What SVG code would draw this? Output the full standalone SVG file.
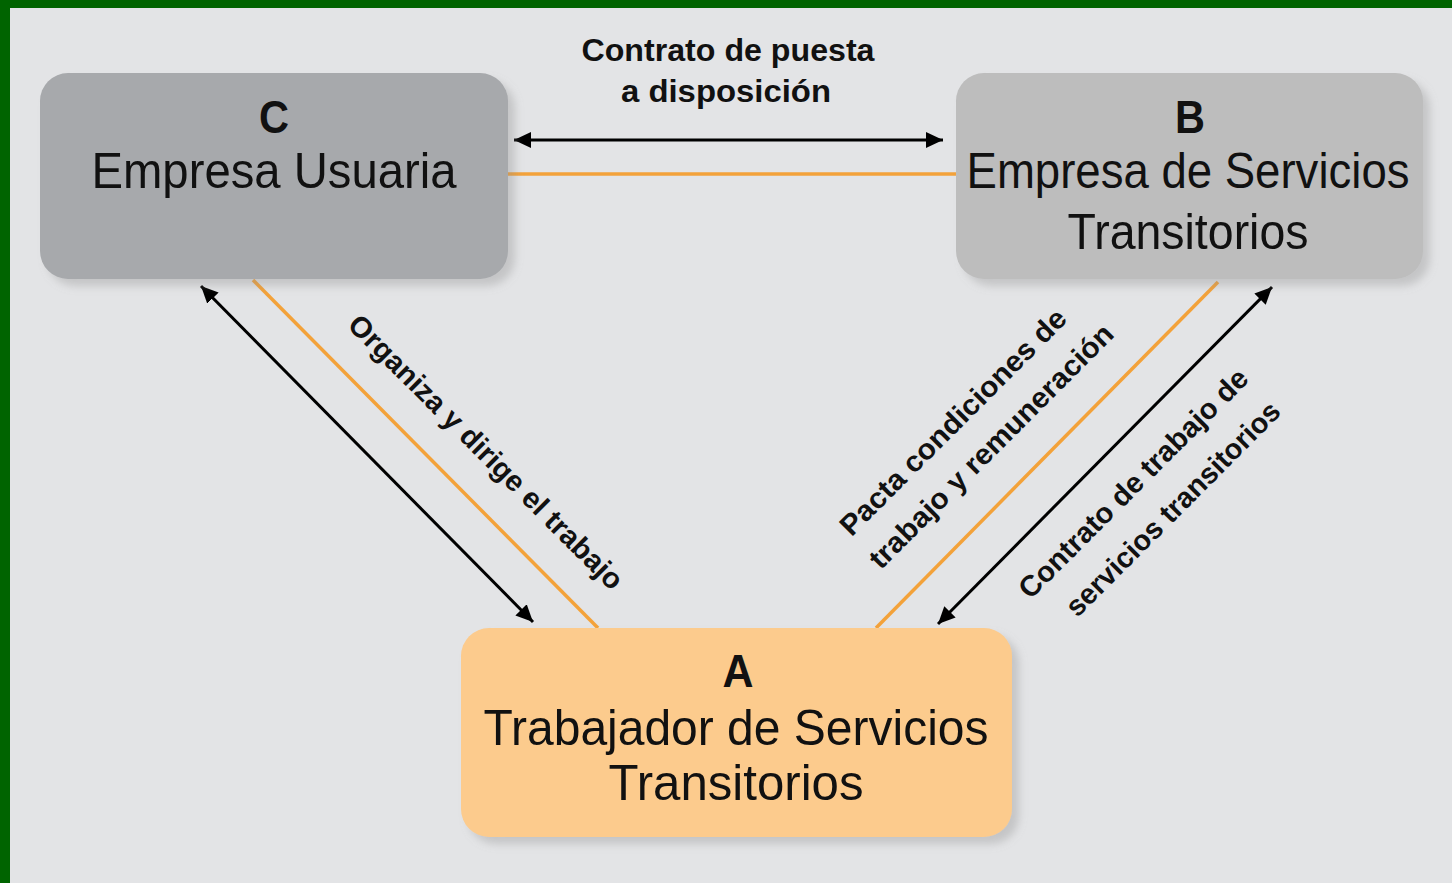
<svg xmlns="http://www.w3.org/2000/svg" width="1452" height="883" viewBox="0 0 1452 883">
<style>
.lbl{font-family:"Liberation Sans Narrow","Liberation Sans",Arial,sans-serif;font-weight:bold;fill:#111;}
.big{font-family:"Liberation Sans Narrow","Liberation Sans",Arial,sans-serif;fill:#111;font-size:50px;text-anchor:middle;}
.letter{font-family:"Liberation Sans","Arial",sans-serif;font-weight:bold;fill:#111;font-size:46px;text-anchor:middle;}
.rot{font-family:"Liberation Sans Narrow","Liberation Sans",Arial,sans-serif;font-weight:bold;fill:#111;font-size:29px;text-anchor:middle;}
.blk{stroke:#000;stroke-width:3;fill:none;marker-start:url(#ah);marker-end:url(#ah);}
.org{stroke:#f3a23a;stroke-width:3.5;fill:none;}
</style>
<defs>
<marker id="ah" markerUnits="userSpaceOnUse" markerWidth="18" markerHeight="16" refX="17" refY="8" orient="auto-start-reverse">
<path d="M0,0 L17,8 L0,16 z" fill="#000"/>
</marker>
<filter id="sh" x="-10%" y="-10%" width="125%" height="130%">
<feDropShadow dx="7" dy="7" stdDeviation="4" flood-color="#8a8a8a" flood-opacity="0.35"/>
</filter>
</defs>
<rect x="0" y="0" width="1452" height="883" fill="#006400"/>
<rect x="10" y="8" width="1442" height="875" fill="#e3e4e6"/>

<g id="connectors">
<line class="org" x1="508" y1="174" x2="956" y2="174"/>
<line class="org" x1="253" y1="280" x2="598" y2="628"/>
<line class="org" x1="1218" y1="282" x2="876" y2="628"/>
<line class="blk" x1="514" y1="140" x2="943" y2="140"/>
<line class="blk" x1="201" y1="286" x2="533" y2="622"/>
<line class="blk" x1="1272" y1="287" x2="938" y2="624"/>
<text class="lbl" font-size="32" text-anchor="middle"><tspan x="728" y="61" textLength="293" lengthAdjust="spacingAndGlyphs">Contrato de puesta</tspan><tspan x="726" y="102" textLength="210" lengthAdjust="spacingAndGlyphs">a disposición</tspan></text>
<g transform="translate(486,452) rotate(45)">
<text class="rot" x="0" y="10" textLength="375" lengthAdjust="spacingAndGlyphs">Organiza y dirige el trabajo</text>
</g>
<g transform="translate(972,434) rotate(-45)">
<text class="rot" x="-5" y="-12" textLength="307" lengthAdjust="spacingAndGlyphs">Pacta condiciones de</text>
<text class="rot" x="5" y="32" textLength="332" lengthAdjust="spacingAndGlyphs">trabajo y remuneración</text>
</g>
<g transform="translate(1153,496) rotate(-45)">
<text class="rot" x="-5" y="-13" textLength="311" lengthAdjust="spacingAndGlyphs">Contrato de trabajo de</text>
<text class="rot" x="5" y="33" textLength="290" lengthAdjust="spacingAndGlyphs">servicios transitorios</text>
</g>
</g>

<g id="nodeC">
<rect x="40" y="73" width="468" height="206" rx="28" fill="#a7a9ac" filter="url(#sh)"/>
<text class="letter" x="274" y="133" textLength="30" lengthAdjust="spacingAndGlyphs">C</text>
<text class="big" x="274" y="188" textLength="365" lengthAdjust="spacingAndGlyphs">Empresa Usuaria</text>
</g>

<g id="nodeB">
<rect x="956" y="73" width="467" height="206" rx="28" fill="#bdbdbd" filter="url(#sh)"/>
<text class="letter" x="1190" y="133" textLength="30" lengthAdjust="spacingAndGlyphs">B</text>
<text class="big" x="1188" y="188" textLength="443" lengthAdjust="spacingAndGlyphs">Empresa de Servicios</text>
<text class="big" x="1188" y="249" textLength="241" lengthAdjust="spacingAndGlyphs">Transitorios</text>
</g>

<g id="nodeA">
<rect x="461" y="628" width="551" height="209" rx="28" fill="#fccb8d" filter="url(#sh)"/>
<text class="letter" x="738" y="687" textLength="31" lengthAdjust="spacingAndGlyphs">A</text>
<text class="big" x="736" y="745" textLength="505" lengthAdjust="spacingAndGlyphs">Trabajador de Servicios</text>
<text class="big" x="736" y="800" textLength="255" lengthAdjust="spacingAndGlyphs">Transitorios</text>
</g>
</svg>
